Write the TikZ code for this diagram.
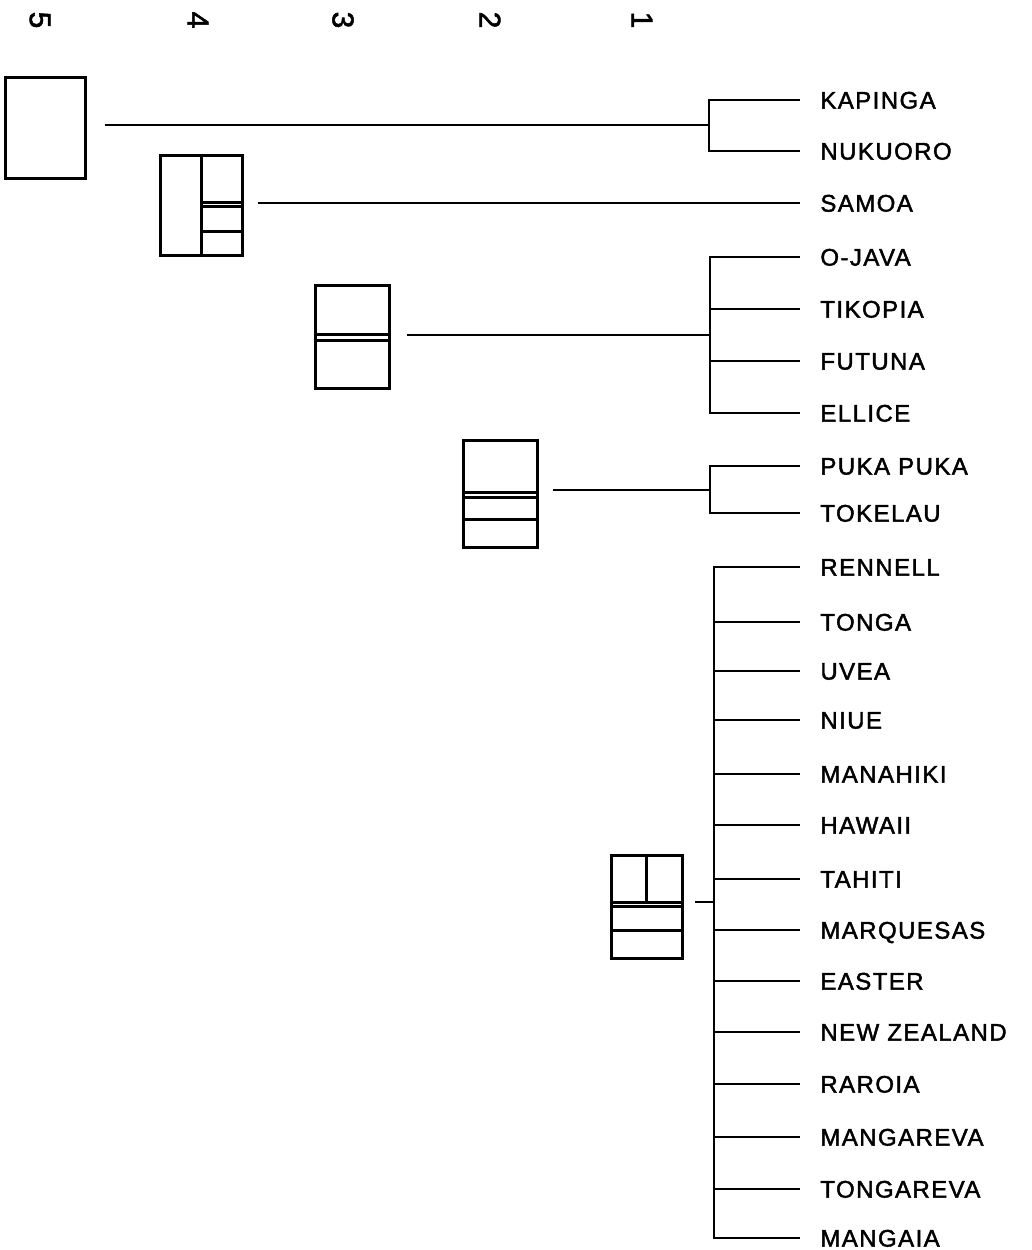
\documentclass[tikz,border=0pt]{standalone}
\usepackage{fontspec}
\setmainfont[LetterSpace=6,FakeBold=1.8]{Liberation Sans}

\begin{document}
\begin{tikzpicture}[x=0.5pt,y=-0.5pt]
        \tikzstyle{every node}=[font=\fontsize{12}{14}\selectfont]
        \tikzstyle{lang}=[anchor=west, inner sep=0pt, text height=8.6pt, text depth=0pt]
        \tikzstyle{rank}=[rotate=-90, inner sep=0pt, font=\fontsize{15}{17}\selectfont]
        \tikzstyle{group}=[draw, line width=1.5pt, inner sep=0pt]
        \tikzstyle{link}=[line width=1pt]
        \tikzstyle{branch}=[line width=1pt, shorten >=10pt]
        \useasboundingbox (0,0) rectangle (1032,1250);
        % level numbers
        \node[rank] (r5) at (40,20) {5};
        \node[rank] (r4) at (198,20) {4};
        \node[rank] (r3) at (343,20) {3};
        \node[rank] (r2) at (490,20) {2};
        \node[rank] (r1) at (642,20) {1};
        % groups
        \node[group, minimum width=40pt, minimum height=50.5pt] (b5) at (45,127.5) {};
        \node[group, minimum width=41pt, minimum height=50pt] (b4) at (201,205) {};
        \node[group, minimum width=37pt, minimum height=51.5pt] (b3) at (352,336.5) {};
        \node[group, minimum width=37pt, minimum height=53.5pt] (b2) at (500,493.5) {};
        \node[group, minimum width=35.5pt, minimum height=51.5pt] (b1) at (646.5,906.5) {};
        \draw[line width=1.5pt] (b4.north) -- (b4.south) (201,202) -- (242,202) (201,206) -- (242,206) (201,231) -- (242,231);
        \draw[line width=1.5pt] (315,334) -- (389,334) (315,340) -- (389,340);
        \draw[line width=1.5pt] (463,492) -- (537,492) (463,497) -- (537,497) (463,519) -- (537,519);
        \draw[line width=1.5pt] (b1.north) -- (646.5,902) (611,902) -- (682,902) (611,906) -- (682,906) (611,930) -- (682,930);
        % languages
        \node[lang] (kapinga) at (820,100) {KAPINGA};
        \node[lang] (nukuoro) at (820,151) {NUKUORO};
        \node[lang] (samoa) at (820,203) {SAMOA};
        \node[lang] (ojava) at (820,257) {O-JAVA};
        \node[lang] (tikopia) at (820,309) {TIKOPIA};
        \node[lang] (futuna) at (820,361) {FUTUNA};
        \node[lang] (ellice) at (820,413) {ELLICE};
        \node[lang] (pukapuka) at (820,466) {PUKA PUKA};
        \node[lang] (tokelau) at (820,513) {TOKELAU};
        \node[lang] (rennell) at (820,567) {RENNELL};
        \node[lang] (tonga) at (820,622) {TONGA};
        \node[lang] (uvea) at (820,671) {UVEA};
        \node[lang] (niue) at (820,720) {NIUE};
        \node[lang] (manahiki) at (820,774) {MANAHIKI};
        \node[lang] (hawaii) at (820,825) {HAWAII};
        \node[lang] (tahiti) at (820,879) {TAHITI};
        \node[lang] (marquesas) at (820,930) {MARQUESAS};
        \node[lang] (easter) at (820,981) {EASTER};
        \node[lang] (newzealand) at (820,1032) {NEW ZEALAND};
        \node[lang] (raroia) at (820,1084) {RAROIA};
        \node[lang] (mangareva) at (820,1137) {MANGAREVA};
        \node[lang] (tongareva) at (820,1189) {TONGAREVA};
        \node[lang] (mangaia) at (820,1238) {MANGAIA};
        % forks
        \coordinate (j5) at (709,125);
        \coordinate (j3) at (710,335);
        \coordinate (j2) at (710,490);
        \coordinate (j1) at (714,902);
        \draw[link, shorten <=9pt] (b5.east |- j5) -- (j5);
        \draw[link, shorten <=7pt, shorten >=10pt] (b4.east |- samoa) -- (samoa.west);
        \draw[link, shorten <=8pt] (b3.east |- j3) -- (j3);
        \draw[link, shorten <=7pt] (b2.east |- j2) -- (j2);
        \draw[link, shorten <=5.5pt] (b1.east |- j1) -- (j1);
        \draw[branch] (j5) |- (kapinga.west); \draw[branch] (j5) |- (nukuoro.west);
        \draw[branch] (j3) |- (ojava.west); \draw[branch] (j3) |- (tikopia.west);
        \draw[branch] (j3) |- (futuna.west); \draw[branch] (j3) |- (ellice.west);
        \draw[branch] (j2) |- (pukapuka.west); \draw[branch] (j2) |- (tokelau.west);
        \draw[branch] (j1) |- (rennell.west); \draw[branch] (j1) |- (tonga.west);
        \draw[branch] (j1) |- (uvea.west); \draw[branch] (j1) |- (niue.west);
        \draw[branch] (j1) |- (manahiki.west); \draw[branch] (j1) |- (hawaii.west);
        \draw[branch] (j1) |- (tahiti.west); \draw[branch] (j1) |- (marquesas.west);
        \draw[branch] (j1) |- (easter.west); \draw[branch] (j1) |- (newzealand.west);
        \draw[branch] (j1) |- (raroia.west); \draw[branch] (j1) |- (mangareva.west);
        \draw[branch] (j1) |- (tongareva.west); \draw[branch] (j1) |- (mangaia.west);
    \end{tikzpicture}
\end{document}
